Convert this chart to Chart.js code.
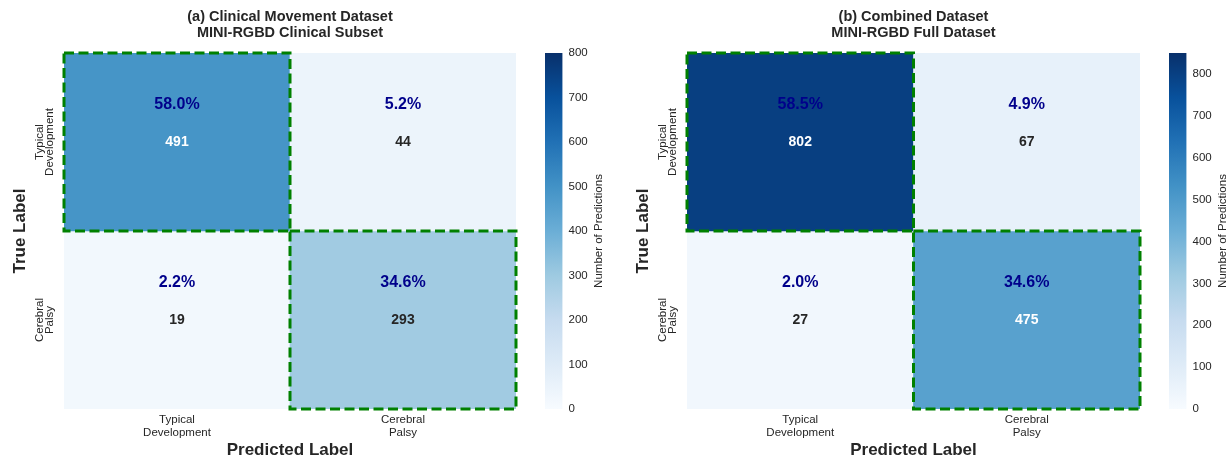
<!DOCTYPE html>
<html>
<head>
<meta charset="utf-8">
<script src="https://cdn.jsdelivr.net/npm/chart.js@4"></script>
<style>
  html, body { margin: 0; padding: 0; background: #fff; }
  #wrap { position: relative; width: 1232px; height: 461px; overflow: hidden; }
  #wrap canvas { position: absolute; top: 0; }
</style>
</head>
<body>
<div id="wrap">
  <canvas id="cmA" width="580" height="461" style="left:0px"></canvas>
  <canvas id="cbA" width="80" height="461" style="left:545px"></canvas>
  <canvas id="cmB" width="581" height="461" style="left:623px"></canvas>
  <canvas id="cbB" width="63" height="461" style="left:1169px"></canvas>
</div>
<script>
// data
const classLabels = [['Typical', 'Development'], ['Cerebral', 'Palsy']];
const clinicalCounts = [[491, 44], [19, 293]];
const combinedCounts = [[802, 67], [27, 475]];
const clinicalTitle = ['(a) Clinical Movement Dataset', 'MINI-RGBD Clinical Subset'];
const combinedTitle = ['(b) Combined Dataset', 'MINI-RGBD Full Dataset'];
const clinicalMax = 800;
const combinedMax = 850;
const colorbarStep = 100;

const FONT = "'Liberation Sans', Arial, Helvetica, sans-serif";
const INK = '#262626';

// matplotlib "Blues"
const bluesStops = ['#f7fbff', '#deebf7', '#c6dbef', '#9ecae1', '#6baed6', '#4292c6', '#2171b5', '#08519c', '#08306b'];
function hexRgb(h) {
  return [parseInt(h.slice(1, 3), 16), parseInt(h.slice(3, 5), 16), parseInt(h.slice(5, 7), 16)];
}
function bluesRgb(t) {
  t = Math.max(0, Math.min(1, t));
  const pos = t * (bluesStops.length - 1);
  const i = Math.min(Math.floor(pos), bluesStops.length - 2);
  const f = pos - i;
  const a = hexRgb(bluesStops[i]), b = hexRgb(bluesStops[i + 1]);
  return a.map((v, k) => Math.round(v + (b[k] - v) * f));
}
function blues(t) {
  const c = bluesRgb(t);
  return 'rgb(' + c.join(',') + ')';
}
function luminance(rgb) {
  const lin = rgb.map(v => {
    v /= 255;
    return v <= 0.03928 ? v / 12.92 : Math.pow((v + 0.055) / 1.055, 2.4);
  });
  return 0.2126 * lin[0] + 0.7152 * lin[1] + 0.0722 * lin[2];
}

const matrixPlugin = {
  id: 'matrixText',
  afterDatasetsDraw(chart, args, opts) {
    const { ctx, chartArea } = chart;
    const counts = opts.counts;
    const total = counts.flat().reduce((a, b) => a + b, 0);
    ctx.save();
    ctx.textAlign = 'center';
    ctx.textBaseline = 'middle';
    chart.data.datasets.forEach((ds, r) => {
      chart.getDatasetMeta(r).data.forEach((bar, c) => {
        const top = Math.min(bar.y, bar.base), bottom = Math.max(bar.y, bar.base);
        const cy = (top + bottom) / 2;
        const v = counts[r][c];
        ctx.font = 'bold 16px ' + FONT;
        ctx.fillStyle = '#00008b';
        ctx.fillText((v / total * 100).toFixed(1) + '%', bar.x, cy - 37);
        ctx.font = 'bold 14px ' + FONT;
        ctx.fillStyle = luminance(bluesRgb(v / opts.vmax)) > 0.408 ? INK : '#ffffff';
        ctx.fillText(String(v), bar.x, cy);
        if (r === c) {
          ctx.save();
          ctx.strokeStyle = '#008000';
          ctx.lineWidth = 3;
          ctx.setLineDash([10, 4.5]);
          ctx.strokeRect(bar.x - bar.width / 2, top, bar.width, bottom - top);
          ctx.restore();
        }
      });
    });
    // rotated row labels
    const yScale = chart.scales.y;
    const n = classLabels.length;
    ctx.font = '11.5px ' + FONT;
    ctx.fillStyle = INK;
    classLabels.forEach((lines, r) => {
      const cy = yScale.getPixelForValue(n - r - 0.5);
      lines.forEach((line, k) => {
        ctx.save();
        ctx.translate(chartArea.left - 24 + k * 9.5, cy);
        ctx.rotate(-Math.PI / 2);
        ctx.fillText(line, 0, 0);
        ctx.restore();
      });
    });
    // panel title
    ctx.font = 'bold 14.5px ' + FONT;
    const cx = (chartArea.left + chartArea.right) / 2;
    opts.title.forEach((line, k) => ctx.fillText(line, cx, 17 + k * 16));
    ctx.restore();
  }
};

const colorbarPlugin = {
  id: 'colorbarLabel',
  afterDraw(chart) {
    const { ctx, chartArea } = chart;
    ctx.save();
    ctx.font = '11.5px ' + FONT;
    ctx.fillStyle = INK;
    ctx.textAlign = 'center';
    ctx.textBaseline = 'middle';
    ctx.translate(chartArea.right + 36, (chartArea.top + chartArea.bottom) / 2);
    ctx.rotate(-Math.PI / 2);
    ctx.fillText('Number of Predictions', 0, 0);
    ctx.restore();
  }
};

function drawMatrix(id, counts, vmax, title) {
  const n = counts.length;
  const datasets = counts.map((row, r) => ({
    data: row.map(() => [n - 1 - r, n - r]),
    backgroundColor: row.map(v => blues(v / vmax)),
    barPercentage: 1,
    categoryPercentage: 1,
    grouped: false,
    borderWidth: 0
  }));
  new Chart(document.getElementById(id), {
    type: 'bar',
    data: { labels: classLabels, datasets: datasets },
    options: {
      responsive: false,
      animation: false,
      layout: { padding: { top: 53, right: 64, left: 0, bottom: 0 } },
      plugins: {
        legend: { display: false },
        tooltip: { enabled: false },
        matrixText: { counts: counts, vmax: vmax, title: title }
      },
      scales: {
        x: {
          grid: { display: false, drawTicks: false },
          border: { display: false },
          ticks: { font: { family: FONT, size: 11.5, lineHeight: 1.1 }, color: INK, padding: 5, maxRotation: 0 },
          title: { display: true, text: 'Predicted Label', color: INK, font: { family: FONT, size: 17, weight: 'bold' }, padding: 0 },
          afterFit: s => { s.height = 52; }
        },
        y: {
          min: 0,
          max: n,
          grid: { display: false, drawTicks: false },
          border: { display: false },
          ticks: { display: false },
          title: { display: true, text: 'True Label', color: INK, font: { family: FONT, size: 17, weight: 'bold' }, padding: { top: 10, bottom: 0 } },
          afterFit: s => { s.width = 64; }
        }
      }
    },
    plugins: [matrixPlugin]
  });
}

function drawColorbar(id, vmax) {
  const canvas = document.getElementById(id);
  const barWidth = 17.5;
  new Chart(canvas, {
    type: 'bar',
    data: {
      labels: [''],
      datasets: [{
        data: [[0, vmax]],
        backgroundColor: c => {
          const a = c.chart.chartArea;
          if (!a) return bluesStops[4];
          const g = c.chart.ctx.createLinearGradient(0, a.bottom, 0, a.top);
          bluesStops.forEach((col, i) => g.addColorStop(i / (bluesStops.length - 1), col));
          return g;
        },
        barPercentage: 1,
        categoryPercentage: 1,
        borderWidth: 0
      }]
    },
    options: {
      responsive: false,
      animation: false,
      layout: { padding: { top: 53, bottom: 52, left: 0, right: 0 } },
      plugins: { legend: { display: false }, tooltip: { enabled: false } },
      scales: {
        x: { display: false },
        y: {
          position: 'right',
          min: 0,
          max: vmax,
          grid: { display: false, drawTicks: false },
          border: { display: false },
          ticks: { stepSize: colorbarStep, includeBounds: false, font: { family: FONT, size: 11.5 }, color: INK, padding: 6 },
          afterFit: s => { s.width = canvas.width - barWidth; }
        }
      }
    },
    plugins: [colorbarPlugin]
  });
}

drawMatrix('cmA', clinicalCounts, clinicalMax, clinicalTitle);
drawColorbar('cbA', clinicalMax);
drawMatrix('cmB', combinedCounts, combinedMax, combinedTitle);
drawColorbar('cbB', combinedMax);
</script>
</body>
</html>
